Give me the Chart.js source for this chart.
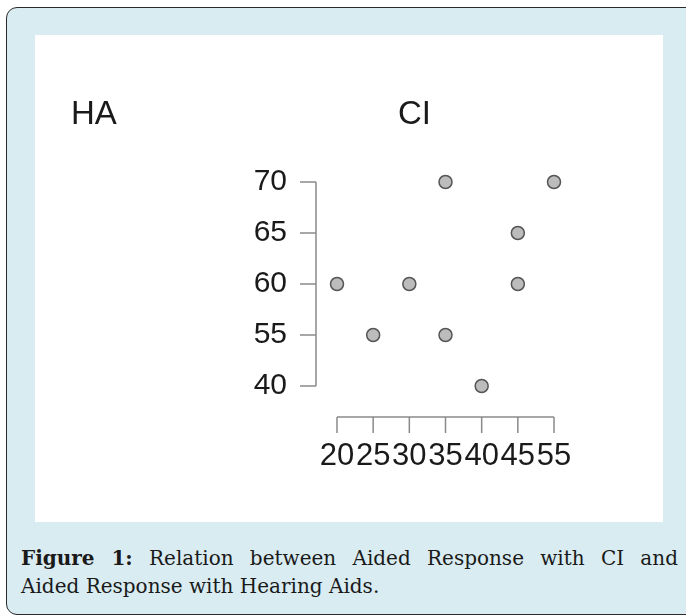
<!DOCTYPE html>
<html>
<head>
<meta charset="utf-8">
<script src="https://cdn.jsdelivr.net/npm/chart.js@4"></script>
<style>
  html, body { margin: 0; padding: 0; background: #fff; }
  body { width: 686px; height: 616px; position: relative; overflow: hidden; }
  .frame {
    position: absolute; left: 6px; top: 7px; width: 700px; height: 606px;
    background: #d9ecf1; border: 1.5px solid #2a2a2a; border-radius: 11px;
  }
  .panel { position: absolute; left: 35px; top: 35px; width: 628px; height: 487px; background: #fff; }
  .caption {
    position: absolute; left: 21px; top: 545px; width: 657px;
    font-family: "DejaVu Serif", serif; font-size: 20px; line-height: 27.5px; color: #1a1a1a;
  }
  .caption .l1 { text-align: justify; text-align-last: justify; }
</style>
</head>
<body>
<div class="frame"></div>
<div class="panel"><canvas id="fig" width="628" height="487"></canvas></div>
<div class="caption">
  <div class="l1"><b>Figure 1:</b> Relation between Aided Response with CI and</div>
  <div>Aided Response with Hearing Aids.</div>
</div>
<script>
// ejes categóricos, como en el original
const xLabels = ['20', '25', '30', '35', '40', '45', '55']
const yLabels = ['70', '65', '60', '55', '40']
// HA (x) vs CI (y)
const haValues = ['20', '25', '30', '35', '35', '40', '45', '45', '55']
const ciValues = ['60', '55', '60', '70', '55', '40', '65', '60', '70']

const points = haValues.map((v, i) => ({ x: v, y: ciValues[i] }))

// ejes al estilo R: separados del area y solo entre el primer y el ultimo tick
const rAxes = {
    id: 'rAxes',
    afterDraw(chart) {
        const { ctx, chartArea, scales: { x, y } } = chart
        ctx.save()
        ctx.strokeStyle = '#8a8a8a'
        ctx.lineWidth = 1.5
        const ax = chartArea.left - 21
        const yTop = y.getPixelForTick(0)
        const yBot = y.getPixelForTick(yLabels.length - 1)
        ctx.beginPath()
        ctx.moveTo(ax, yTop); ctx.lineTo(ax, yBot)
        yLabels.forEach((l, i) => {
            const py = y.getPixelForTick(i)
            ctx.moveTo(ax - 16, py); ctx.lineTo(ax, py)
        })
        const ay = chartArea.bottom + 31
        ctx.moveTo(x.getPixelForTick(0), ay); ctx.lineTo(x.getPixelForTick(xLabels.length - 1), ay)
        xLabels.forEach((l, i) => {
            const px = x.getPixelForTick(i)
            ctx.moveTo(px, ay); ctx.lineTo(px, ay + 16)
        })
        ctx.stroke()
        // titulos de panel
        ctx.fillStyle = '#1a1a1a'
        ctx.font = '33px "Liberation Sans", Arial, sans-serif'
        ctx.textBaseline = 'alphabetic'
        ctx.fillText('HA', 36, 89)
        ctx.fillText('CI', 363, 89)
        ctx.restore()
    }
}

new Chart('fig', {
    type: 'scatter',
    data: {
        datasets: [{
            data: points,
            clip: false,
            pointRadius: 6.5,
            pointBackgroundColor: '#bcbcbc',
            pointBorderColor: '#555',
            pointBorderWidth: 1.5
        }]
    },
    options: {
        responsive: false,
        animation: false,
        layout: { autoPadding: false, padding: { top: 147, right: 109, bottom: 16, left: 0 } },
        plugins: { legend: { display: false }, tooltip: { enabled: false } },
        scales: {
            x: {
                type: 'category',
                labels: xLabels,
                offset: false,
                grid: { display: false, drawTicks: false },
                border: { display: false },
                ticks: { padding: 52, color: '#1a1a1a', font: { size: 31, family: '"Liberation Sans", Arial, sans-serif' }, autoSkip: false, maxRotation: 0 },
                afterFit: s => { s.height = 120 }
            },
            y: {
                type: 'category',
                labels: yLabels,
                offset: false,
                grid: { display: false, drawTicks: false },
                border: { display: false },
                ticks: { padding: 50, color: '#1a1a1a', font: { size: 30, family: '"Liberation Sans", Arial, sans-serif' }, autoSkip: false },
                afterFit: s => { s.width = 302 }
            }
        }
    },
    plugins: [rAxes]
})
</script>
</body>
</html>
